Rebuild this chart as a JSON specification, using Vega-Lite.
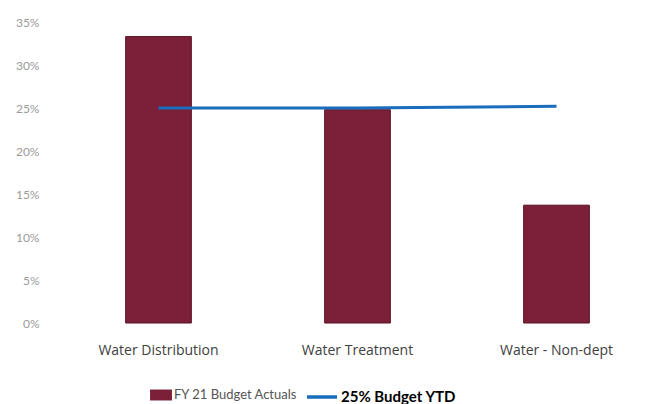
{
  "$schema": "https://vega.github.io/schema/vega-lite/v6.json",
  "width": 597,
  "height": 301,
  "autosize": "none",
  "padding": {"left": 59, "top": 22, "right": 0, "bottom": 81},
  "background": "white",
  "config": {
    "view": {"stroke": null},
    "font": "Lato",
    "axis": {"grid": false, "domain": false, "ticks": false},
    "legend": {"orient": "none", "direction": "horizontal", "labelFont": "Lato", "labelFontSize": 13, "labelOffset": 2}
  },
  "data": {
    "values": [
      {"category": "Water Distribution", "actual": 0.333, "budget": 0.25},
      {"category": "Water Treatment", "actual": 0.248, "budget": 0.25},
      {"category": "Water - Non-dept", "actual": 0.137, "budget": 0.252}
    ]
  },
  "encoding": {
    "x": {
      "field": "category", "type": "nominal", "sort": null,
      "scale": {"paddingInner": 0.67, "paddingOuter": 0.335},
      "axis": {"title": null, "labelAngle": 0, "labelFont": "Open Sans", "labelFontSize": 14, "labelColor": "#404040", "labelPadding": 20}
    }
  },
  "layer": [
    {
      "mark": {"type": "bar", "stroke": "#5a1020", "strokeWidth": 1},
      "encoding": {
        "y": {
          "field": "actual", "type": "quantitative",
          "scale": {"domain": [0, 0.35]},
          "axis": {"title": null, "format": ".0%", "values": [0, 0.05, 0.1, 0.15, 0.2, 0.25, 0.3, 0.35], "labelFontSize": 12, "labelColor": "#9a9a9a", "labelPadding": 20}
        },
        "fill": {
          "datum": "FY 21 Budget Actuals", "type": "nominal",
          "scale": {"range": ["#7b2038"]},
          "legend": {"title": null, "legendX": 91, "legendY": 362, "symbolType": "M-1,-0.5H1V0.5H-1Z", "symbolSize": 480, "symbolStrokeWidth": 0, "labelColor": "#555555", "labelFontSize": 13}
        }
      }
    },
    {
      "mark": {"type": "line", "strokeWidth": 3},
      "encoding": {
        "y": {"field": "budget", "type": "quantitative"},
        "stroke": {
          "datum": "25% Budget YTD", "type": "nominal",
          "scale": {"range": ["#1a6dbd"]},
          "legend": {"title": null, "legendX": 246, "legendY": 358, "symbolType": "stroke", "symbolSize": 900, "symbolStrokeWidth": 3.5, "labelColor": "#000000", "labelFontWeight": "bold", "labelFontSize": 15}
        }
      }
    }
  ]
}
